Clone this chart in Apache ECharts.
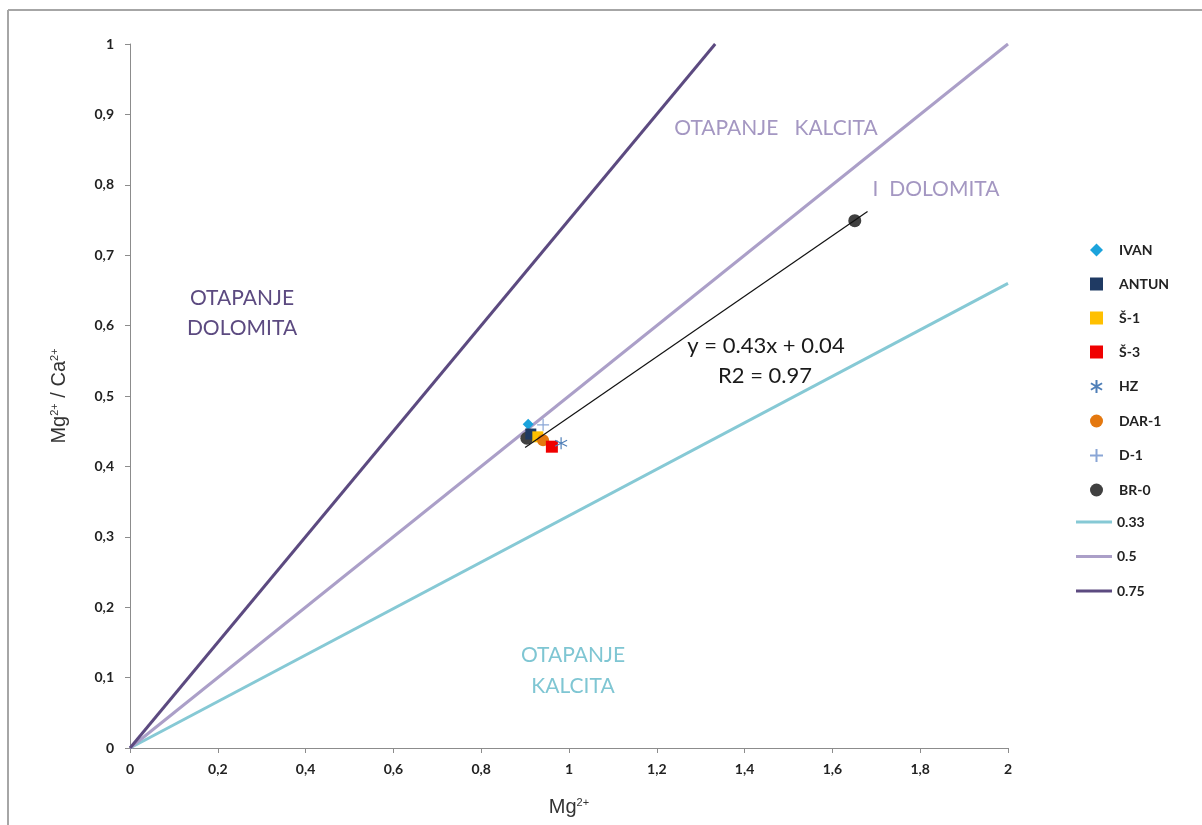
<!DOCTYPE html>
<html><head><meta charset="utf-8">
<script src="https://cdn.jsdelivr.net/npm/echarts@6/dist/echarts.min.js"></script>
<style>html,body{margin:0;padding:0;background:#fff}#c{width:1202px;height:825px}</style>
</head><body><div id="c"></div>
<script>
// Data
const IVAN = [[0.907, 0.460]];
const ANTUN = [[0.913, 0.446]];
const S1 = [[0.929, 0.442]];
const S3 = [[0.961, 0.428]];
const HZ = [[0.982, 0.433]];
const DAR1 = [[0.941, 0.437]];
const D1 = [[0.941, 0.459]];
const BR0 = [[0.904, 0.440], [1.651, 0.749]];
const TREND = [[0.9, 0.427], [1.68, 0.762]];
const LINE033 = [[0, 0], [2, 0.66]];
const LINE05 = [[0, 0], [2, 1]];
const LINE075 = [[0, 0], [1.333, 1]];
const X_TICKS = [0, 0.2, 0.4, 0.6, 0.8, 1, 1.2, 1.4, 1.6, 1.8, 2];
const Y_TICKS = [0, 0.1, 0.2, 0.3, 0.4, 0.5, 0.6, 0.7, 0.8, 0.9, 1];

const FONT = 'Lato, "Open Sans", sans-serif';
const fmt = v => String(+v.toFixed(2)).replace('.', ',');
const ASTER = 'path://M5,0L5,10M0.7,2.5L9.3,7.5M0.7,7.5L9.3,2.5';
const PLUS = 'path://M5,0L5,10M0,5L10,5';
const LINEICON = 'path://M0,0L36,0L36,3L0,3Z';

const chart = echarts.init(document.getElementById('c'), null, {renderer: 'canvas'});
const axisCommon = {
  axisLine: {show: true, lineStyle: {color: '#8c8c8c', width: 1}},
  axisTick: {show: true, inside: false, length: 5, lineStyle: {color: '#8c8c8c'}},
  splitLine: {show: false},
  axisLabel: {color: '#222', fontWeight: 'bold', fontSize: 14, fontFamily: FONT, formatter: fmt}
};
const nameStyle = {color: '#333', fontSize: 20, fontFamily: '"Liberation Sans", Arial, sans-serif',
  rich: {sup: {fontSize: 11, color: '#333', verticalAlign: 'top', padding: [0, 0, 10, 0], fontFamily: '"Liberation Sans", Arial, sans-serif'}}};
function sc(name, data, symbol, size, style) {
  return {name, type: 'scatter', data, symbol, symbolSize: size, itemStyle: Object.assign({opacity: 1}, style), z: 3};
}
chart.setOption({
  animation: false,
  backgroundColor: '#fff',
  grid: {left: 130, right: 194, top: 44, bottom: 77},
  xAxis: Object.assign({}, axisCommon, {
    type: 'value', min: 0, max: 2, interval: 0.2,
    axisLabel: Object.assign({}, axisCommon.axisLabel, {margin: 14}),
    name: 'Mg{sup|2+}', nameLocation: 'middle', nameGap: 49,
    nameTextStyle: nameStyle
  }),
  yAxis: Object.assign({}, axisCommon, {
    type: 'value', min: 0, max: 1, interval: 0.1,
    axisLabel: Object.assign({}, axisCommon.axisLabel, {margin: 16}),
    name: 'Mg{sup|2+} / Ca{sup|2+}', nameLocation: 'middle', nameGap: 60, nameRotate: 90,
    nameTextStyle: nameStyle
  }),
  legend: [
    {
      orient: 'vertical', left: 1084, top: 238, itemWidth: 13, itemHeight: 13, itemGap: 20,
      textStyle: {fontFamily: FONT, fontWeight: 'bold', fontSize: 14, color: '#222', padding: [0, 0, 0, 11]},
      data: [
        {name: 'IVAN', icon: 'diamond'},
        {name: 'ANTUN', icon: 'rect'},
        {name: 'Š-1', icon: 'rect'},
        {name: 'Š-3', icon: 'rect'},
        {name: 'HZ', icon: ASTER},
        {name: 'DAR-1', icon: 'circle'},
        {name: 'D-1', icon: PLUS},
        {name: 'BR-0', icon: 'circle'}
      ]
    },
    {
      orient: 'vertical', left: 1071, top: 510, itemWidth: 36, itemHeight: 16, itemGap: 20.5,
      textStyle: {fontFamily: FONT, fontWeight: 'bold', fontSize: 14, color: '#222'},
      data: [
        {name: '0.33', icon: LINEICON},
        {name: '0.5', icon: LINEICON},
        {name: '0.75', icon: LINEICON}
      ]
    }
  ],
  series: [
    {name: '0.33', type: 'line', data: LINE033, symbol: 'none', lineStyle: {color: '#86c9d5', width: 3}, itemStyle: {color: '#86c9d5'}, z: 1},
    {name: '0.5', type: 'line', data: LINE05, symbol: 'none', lineStyle: {color: '#ab9fc8', width: 3}, itemStyle: {color: '#ab9fc8'}, z: 1},
    {name: '0.75', type: 'line', data: LINE075, symbol: 'none', lineStyle: {color: '#5c4a80', width: 3}, itemStyle: {color: '#5c4a80'}, z: 1},
    sc('BR-0', BR0, 'circle', 13, {color: '#404040'}),
    sc('IVAN', IVAN, 'diamond', 11, {color: '#1ba3dc'}),
    sc('ANTUN', ANTUN, 'rect', 11, {color: '#1f3a63'}),
    sc('Š-1', S1, 'rect', 11, {color: '#ffc000'}),
    sc('DAR-1', DAR1, 'circle', 12, {color: '#e4780f'}),
    sc('Š-3', S3, 'rect', 12, {color: '#f00000'}),
    sc('HZ', HZ, ASTER, 12, {color: 'rgba(0,0,0,0)', borderColor: '#4f7fb8', borderWidth: 1.2}),
    sc('D-1', D1, PLUS, 12, {color: 'rgba(0,0,0,0)', borderColor: '#8aa6d6', borderWidth: 1.2}),
    {name: 'trend', type: 'line', data: TREND, symbol: 'none', lineStyle: {color: '#111', width: 1.2}, z: 4, silent: true}
  ],
  graphic: [
    {type: 'line', shape: {x1: 8, y1: 10, x2: 1202, y2: 10}, style: {stroke: '#a6a6a6', lineWidth: 2}},
    {type: 'line', shape: {x1: 8, y1: 10, x2: 8, y2: 825}, style: {stroke: '#a6a6a6', lineWidth: 2}},
    {type: 'text', x: 776, y: 128, style: {text: 'OTAPANJE   KALCITA', fill: '#a497c2', font: '21px ' + FONT, align: 'center', verticalAlign: 'middle'}},
    {type: 'text', x: 936, y: 189, style: {text: 'I  DOLOMITA', fill: '#a497c2', font: '21px ' + FONT, align: 'center', verticalAlign: 'middle'}},
    {type: 'text', x: 242, y: 298, style: {text: 'OTAPANJE', fill: '#5c4a80', font: '21px ' + FONT, align: 'center', verticalAlign: 'middle'}},
    {type: 'text', x: 242, y: 328, style: {text: 'DOLOMITA', fill: '#5c4a80', font: '21px ' + FONT, align: 'center', verticalAlign: 'middle'}},
    {type: 'text', x: 573, y: 655, style: {text: 'OTAPANJE', fill: '#7fc6d3', font: '21px ' + FONT, align: 'center', verticalAlign: 'middle'}},
    {type: 'text', x: 573, y: 686, style: {text: 'KALCITA', fill: '#7fc6d3', font: '21px ' + FONT, align: 'center', verticalAlign: 'middle'}},
    {type: 'text', x: 766, y: 346, style: {text: 'y = 0.43x + 0.04', fill: '#1a1a1a', font: '22px ' + FONT, align: 'center', verticalAlign: 'middle'}},
    {type: 'text', x: 765, y: 376, style: {text: 'R2 = 0.97', fill: '#1a1a1a', font: '22px ' + FONT, align: 'center', verticalAlign: 'middle'}}
  ]
});
</script></body></html>
